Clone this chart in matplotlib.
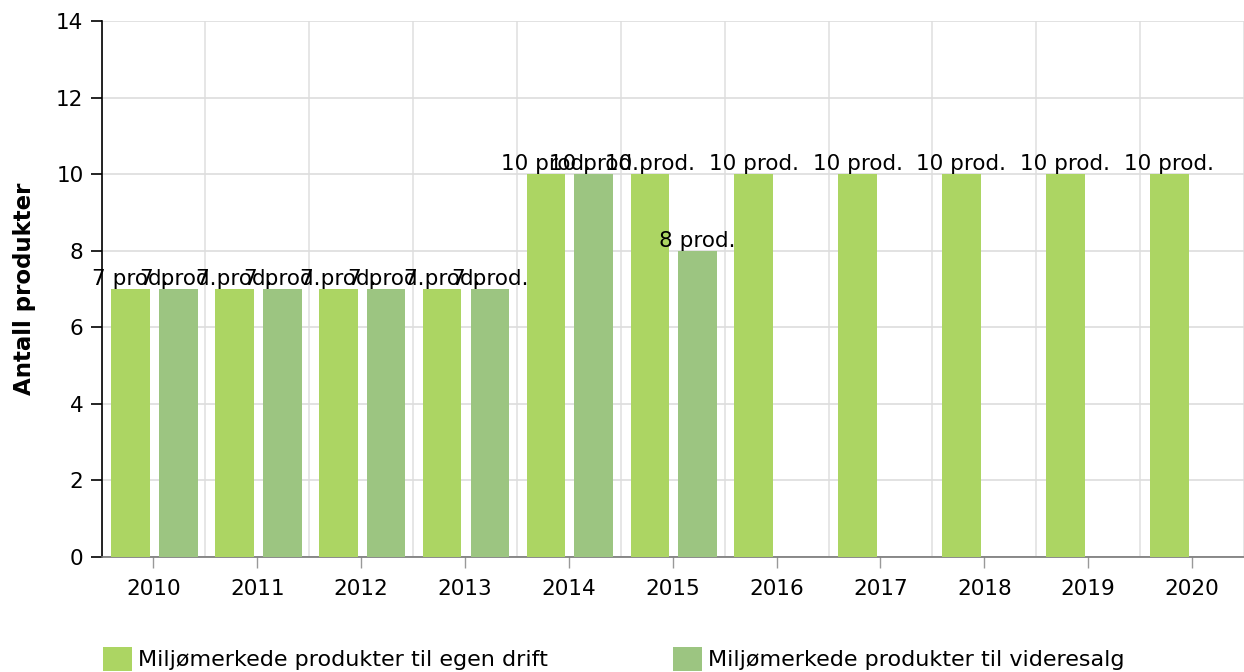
import numpy as np
import matplotlib
matplotlib.use("Agg")
import matplotlib.pyplot as plt
from matplotlib.patches import Patch

# data
years = ["2010", "2011", "2012", "2013", "2014", "2015", "2016", "2017", "2018", "2019", "2020"]
egen_drift = [7, 7, 7, 7, 10, 10, 10, 10, 10, 10, 10]
videresalg = [7, 7, 7, 7, 10, 8, None, None, None, None, None]
series_names = ["Miljømerkede produkter til egen drift", "Miljømerkede produkter til videresalg"]

col_egen = "#acd563"
col_vid = "#9cc581"

plt.rcParams["font.family"] = ["DejaVu Sans"]
fs = 15.5

fig = plt.figure(figsize=(12.44, 6.72), dpi=100)
W, H = 1244, 672
left, right, top, bottom = 101.5, 1244, 21, 557
ax = fig.add_axes([left / W, 1 - bottom / H, (right - left) / W, (bottom - top) / H])

x = np.arange(len(years))
bw = 0.372
off1, off2 = -0.22, 0.24

for i, v in enumerate(egen_drift):
    ax.bar(x[i] + off1, v, width=bw, color=col_egen, zorder=3)
    ax.text(x[i] + off1, v, f"{v} prod.", ha="center", va="bottom", fontsize=fs, zorder=4)
for i, v in enumerate(videresalg):
    if v is None:
        continue
    ax.bar(x[i] + off2, v, width=bw, color=col_vid, zorder=3)
    ax.text(x[i] + off2, v, f"{v} prod.", ha="center", va="bottom", fontsize=fs, zorder=4)

ax.set_xlim(-0.5, -0.5 + (right - left) / 104.8)
ax.set_ylim(0, 14)
ax.set_yticks(np.arange(0, 15, 2))
ax.set_xticks(x)
ax.set_xticklabels(years)
ax.set_xticks(np.arange(-0.5, len(years), 1), minor=True)

ax.grid(axis="y", color="#dddddd", linewidth=1.2, zorder=0)
ax.grid(axis="x", which="minor", color="#e2e2e2", linewidth=1.2, zorder=0)
ax.grid(axis="x", which="major", visible=False)

ax.spines["top"].set_visible(False)
ax.spines["right"].set_visible(False)
ax.spines["left"].set_color("black")
ax.spines["left"].set_linewidth(1.2)
ax.spines["bottom"].set_color("#777777")
ax.spines["bottom"].set_linewidth(1.2)

ax.tick_params(axis="y", length=8, width=1.2, color="black", labelsize=fs, pad=5)
ax.tick_params(axis="x", which="major", length=8, width=1, color="#999999", labelsize=fs, pad=8)
ax.tick_params(axis="x", which="minor", length=0)

ax.set_ylabel("Antall produkter", fontsize=16.5, fontweight="bold")
ax.yaxis.set_label_coords((36 - left) / (right - left), 0.5)

handles = [Patch(facecolor=col_egen), Patch(facecolor=col_vid)]
fig.legend(handles, series_names, loc="upper left", bbox_to_anchor=(94 / W, 1 - 638 / H),
           ncol=2, frameon=False, fontsize=16, handlelength=1.3, handleheight=1.3,
           handletextpad=0.3, columnspacing=5.6, borderaxespad=0)

fig.savefig("out.png", dpi=100)
